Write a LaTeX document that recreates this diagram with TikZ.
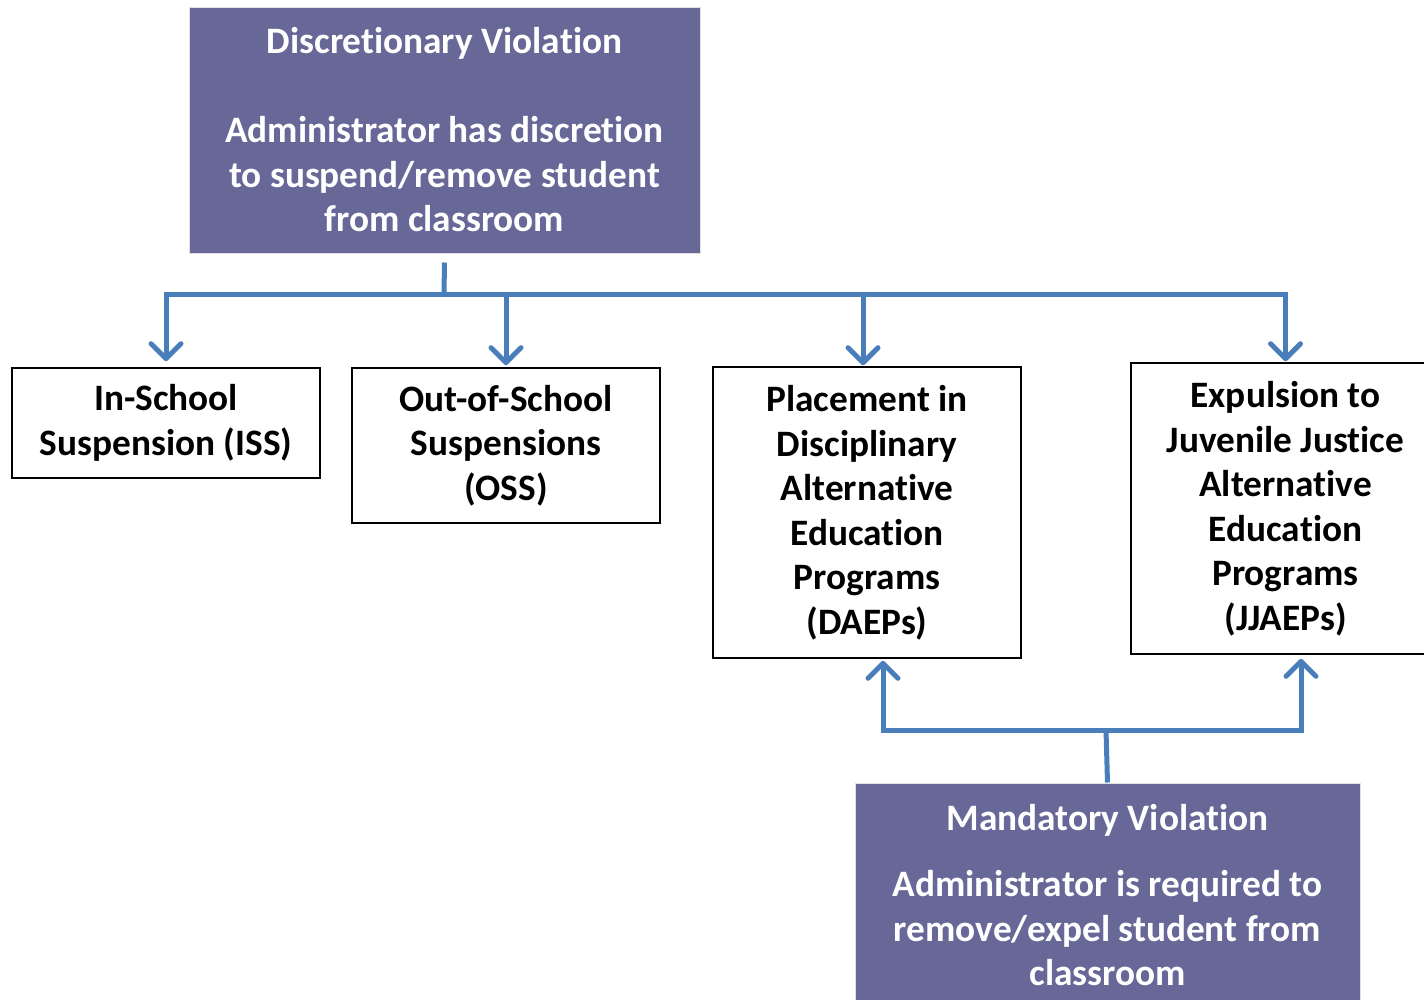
\documentclass[tikz,border=0pt]{standalone}
\usepackage{fontspec}
\setmainfont{Carlito}[Ligatures=NoCommon]
\usetikzlibrary{arrows.meta}
\definecolor{violet}{HTML}{676798}
\definecolor{linkblue}{HTML}{4A7EBB}
\tikzset{
  purplebox/.style={fill=violet, draw=black!12, line width=1pt, text=white, align=center, inner sep=0pt,
    font=\bfseries\fontsize{37.3}{44.5}\selectfont},
  whitebox/.style={draw=black, line width=1.6pt, fill=white, align=center, inner sep=0pt,
    font=\bfseries\fontsize{37.3}{44.5}\selectfont},
  bus/.style={draw=linkblue, line width=5pt},
  arr/.style={bus, -{Straight Barb[length=15pt, width=30pt, round, line width=5pt]}},
}
\begin{document}
\begin{tikzpicture}[x=1pt, y=-1pt]
\useasboundingbox (0,0) rectangle (1424,999);
% top box
\node[purplebox, minimum width=511pt, minimum height=246pt] (dv) at (444.5,130)
  {Discretionary Violation\\[44.5pt]Administrator has discretion\\to suspend/remove student\\from classroom};
% outcome boxes
\node[whitebox, minimum width=308pt, minimum height=110pt] (iss) at (166,423)
  {In-School\\Suspension (ISS)};
\node[whitebox, minimum width=308pt, minimum height=155pt] (oss) at (506,445.5)
  {Out-of-School\\Suspensions\\(OSS)};
\node[whitebox, minimum width=308pt, minimum height=291pt] (daep) at (867,512.5)
  {Placement in\\Disciplinary\\Alternative\\Education\\Programs\\(DAEPs)};
\node[whitebox, minimum width=309pt, minimum height=291pt] (jj) at (1285.5,508.5)
  {Expulsion to\\Juvenile Justice\\Alternative\\Education\\Programs\\(JJAEPs)};
% bottom box
\node[purplebox, minimum width=505pt, minimum height=224pt] (mv) at (1107.5,895)
  {Mandatory Violation\\[22pt]Administrator is required to\\remove/expel student from\\classroom};
% connectors from top
\coordinate (hub) at (444,294);
\draw[bus] ([yshift=-9pt]dv.south) -- (hub);
\draw[arr, shorten >=6pt] (hub) -| (iss.north);
\draw[arr, shorten >=2pt] (hub) -| (oss.north);
\draw[arr, shorten >=1pt] (hub) -| ([xshift=-4pt]daep.north);
\draw[arr, shorten >=1pt] (hub) -| (jj.north);
% connectors from bottom
\coordinate (hub2) at (1106,730);
\draw[bus] (mv.north) -- (hub2);
\draw[arr, shorten >=2pt] (hub2) -| ([xshift=16pt]daep.south);
\draw[arr, shorten >=4pt] (hub2) -| ([xshift=15.5pt]jj.south);
\end{tikzpicture}
\end{document}
